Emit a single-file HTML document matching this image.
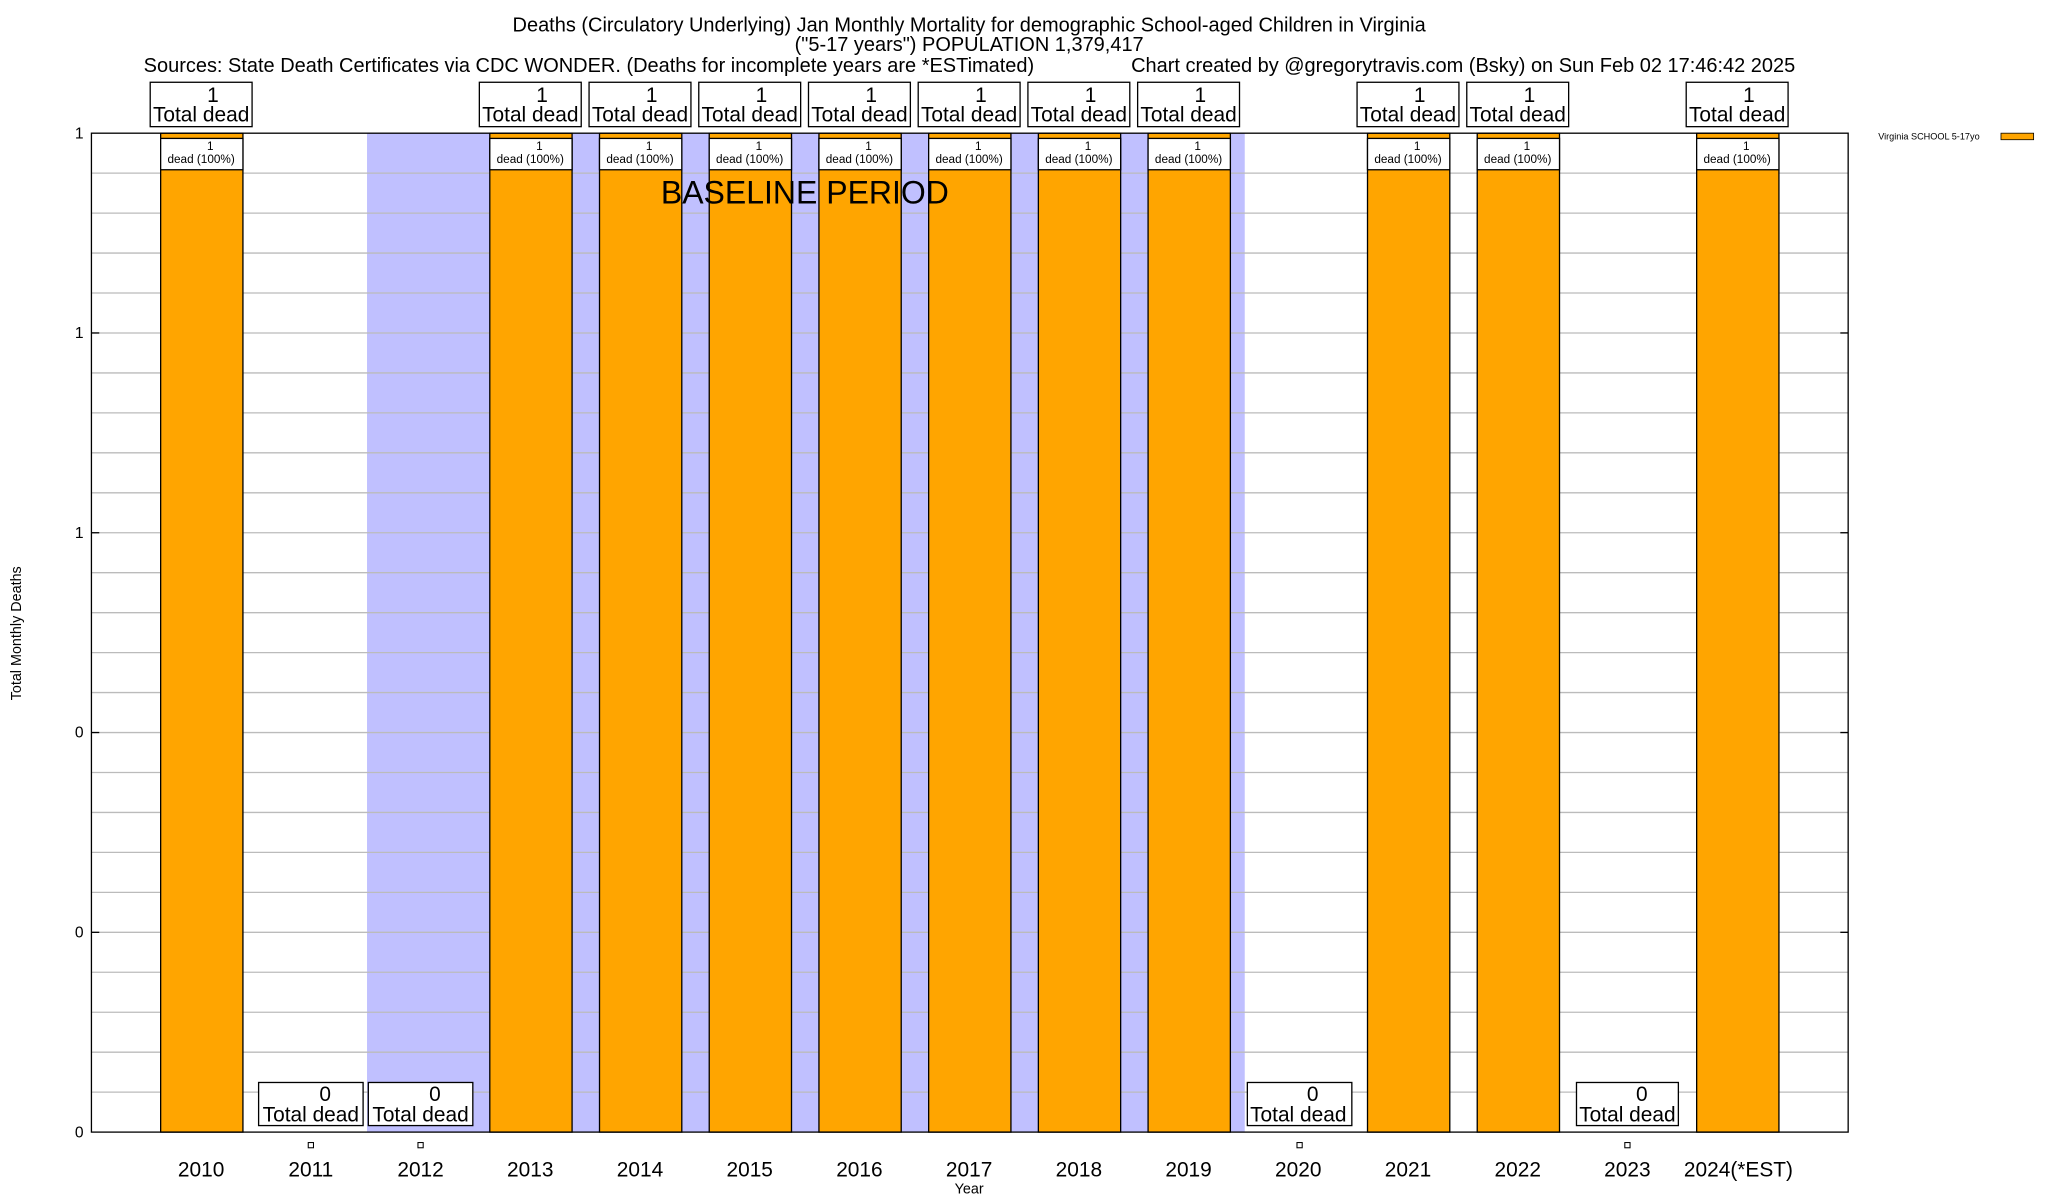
<!DOCTYPE html>
<html><head><meta charset="utf-8"><style>html,body{margin:0;padding:0;background:#fff}svg{display:block}text{font-family:"Liberation Sans",sans-serif;fill:#000}</style></head>
<body>
<svg width="2048" height="1200" viewBox="0 0 1568 919" preserveAspectRatio="none" xmlns="http://www.w3.org/2000/svg">
<rect x="0" y="0" width="1568" height="919" fill="#fff"/>
<text x="742" y="24" font-size="15.3" text-anchor="middle">Deaths (Circulatory Underlying) Jan Monthly Mortality for demographic School-aged Children in Virginia</text>
<text x="742" y="39" font-size="15.3" text-anchor="middle">("5-17 years") POPULATION 1,379,417</text>
<text x="110" y="55" font-size="15.3">Sources: State Death Certificates via CDC WONDER. (Deaths for incomplete years are *ESTimated)</text>
<text x="866" y="55" font-size="15.3">Chart created by @gregorytravis.com (Bsky) on Sun Feb 02 17:46:42 2025</text>
<rect x="281" y="102" width="672" height="765" fill="#c0c0ff"/>
<g stroke="#bbb" stroke-width="1">
<line x1="70" x2="1415" y1="132.6" y2="132.6"/><line x1="70" x2="1415" y1="163.2" y2="163.2"/><line x1="70" x2="1415" y1="193.8" y2="193.8"/><line x1="70" x2="1415" y1="224.4" y2="224.4"/><line x1="70" x2="1415" y1="255" y2="255"/><line x1="70" x2="1415" y1="285.6" y2="285.6"/><line x1="70" x2="1415" y1="316.2" y2="316.2"/><line x1="70" x2="1415" y1="346.8" y2="346.8"/><line x1="70" x2="1415" y1="377.4" y2="377.4"/><line x1="70" x2="1415" y1="408" y2="408"/><line x1="70" x2="1415" y1="438.6" y2="438.6"/><line x1="70" x2="1415" y1="469.2" y2="469.2"/><line x1="70" x2="1415" y1="499.8" y2="499.8"/><line x1="70" x2="1415" y1="530.4" y2="530.4"/><line x1="70" x2="1415" y1="561" y2="561"/><line x1="70" x2="1415" y1="591.6" y2="591.6"/><line x1="70" x2="1415" y1="622.2" y2="622.2"/><line x1="70" x2="1415" y1="652.8" y2="652.8"/><line x1="70" x2="1415" y1="683.4" y2="683.4"/><line x1="70" x2="1415" y1="714" y2="714"/><line x1="70" x2="1415" y1="744.6" y2="744.6"/><line x1="70" x2="1415" y1="775.2" y2="775.2"/><line x1="70" x2="1415" y1="805.8" y2="805.8"/><line x1="70" x2="1415" y1="836.4" y2="836.4"/>
</g>
<g fill="#ffa500" stroke="#000" stroke-width="1">
<rect x="123" y="102" width="63" height="765"/>
<rect x="375" y="102" width="63" height="765"/>
<rect x="459" y="102" width="63" height="765"/>
<rect x="543" y="102" width="63" height="765"/>
<rect x="627" y="102" width="63" height="765"/>
<rect x="711" y="102" width="63" height="765"/>
<rect x="795" y="102" width="63" height="765"/>
<rect x="879" y="102" width="63" height="765"/>
<rect x="1047" y="102" width="63" height="765"/>
<rect x="1131" y="102" width="63" height="765"/>
<rect x="1299" y="102" width="63" height="765"/>
</g>
<text x="506" y="156" font-size="24.5">BASELINE PERIOD</text>
<g font-size="9" text-anchor="middle">
<g fill="#fff" stroke="#000" stroke-width="1">
<rect x="123" y="106" width="63" height="24"/><rect x="375" y="106" width="63" height="24"/><rect x="459" y="106" width="63" height="24"/><rect x="543" y="106" width="63" height="24"/><rect x="627" y="106" width="63" height="24"/><rect x="711" y="106" width="63" height="24"/><rect x="795" y="106" width="63" height="24"/><rect x="879" y="106" width="63" height="24"/><rect x="1047" y="106" width="63" height="24"/><rect x="1131" y="106" width="63" height="24"/><rect x="1299" y="106" width="63" height="24"/>
</g>
<text x="161" y="115">1</text><text x="154" y="125">dead (100%)</text>
<text x="413" y="115">1</text><text x="406" y="125">dead (100%)</text>
<text x="497" y="115">1</text><text x="490" y="125">dead (100%)</text>
<text x="581" y="115">1</text><text x="574" y="125">dead (100%)</text>
<text x="665" y="115">1</text><text x="658" y="125">dead (100%)</text>
<text x="749" y="115">1</text><text x="742" y="125">dead (100%)</text>
<text x="833" y="115">1</text><text x="826" y="125">dead (100%)</text>
<text x="917" y="115">1</text><text x="910" y="125">dead (100%)</text>
<text x="1085" y="115">1</text><text x="1078" y="125">dead (100%)</text>
<text x="1169" y="115">1</text><text x="1162" y="125">dead (100%)</text>
<text x="1337" y="115">1</text><text x="1330" y="125">dead (100%)</text>
</g>
<g fill="#fff" stroke="#000" stroke-width="1">
<rect x="115" y="63" width="78" height="34"/><rect x="367" y="63" width="78" height="34"/><rect x="451" y="63" width="78" height="34"/><rect x="535" y="63" width="78" height="34"/><rect x="619" y="63" width="78" height="34"/><rect x="703" y="63" width="78" height="34"/><rect x="787" y="63" width="78" height="34"/><rect x="871" y="63" width="78" height="34"/><rect x="1039" y="63" width="78" height="34"/><rect x="1123" y="63" width="78" height="34"/><rect x="1291" y="63" width="78" height="34"/>
<rect x="198" y="829" width="80" height="33"/><rect x="282" y="829" width="80" height="33"/><rect x="955" y="829" width="80" height="33"/><rect x="1207" y="829" width="78" height="33"/>
</g>
<g font-size="16" text-anchor="middle">
<text x="163" y="78">1</text><text x="154" y="93">Total dead</text>
<text x="415" y="78">1</text><text x="406" y="93">Total dead</text>
<text x="499" y="78">1</text><text x="490" y="93">Total dead</text>
<text x="583" y="78">1</text><text x="574" y="93">Total dead</text>
<text x="667" y="78">1</text><text x="658" y="93">Total dead</text>
<text x="751" y="78">1</text><text x="742" y="93">Total dead</text>
<text x="835" y="78">1</text><text x="826" y="93">Total dead</text>
<text x="919" y="78">1</text><text x="910" y="93">Total dead</text>
<text x="1087" y="78">1</text><text x="1078" y="93">Total dead</text>
<text x="1171" y="78">1</text><text x="1162" y="93">Total dead</text>
<text x="1339" y="78">1</text><text x="1330" y="93">Total dead</text>
<text x="249" y="843">0</text><text x="238" y="859">Total dead</text>
<text x="333" y="843">0</text><text x="322" y="859">Total dead</text>
<text x="1005" y="843">0</text><text x="994" y="859">Total dead</text>
<text x="1257" y="843">0</text><text x="1246" y="859">Total dead</text>
</g>
<g fill="#fff" stroke="#000" stroke-width="0.8">
<rect x="236" y="875" width="4" height="4"/><rect x="320" y="875" width="4" height="4"/><rect x="993" y="875" width="4" height="4"/><rect x="1244" y="875" width="4" height="4"/>
</g>
<rect x="70" y="102" width="1345" height="765" fill="none" stroke="#000" stroke-width="1"/>
<g stroke="#000" stroke-width="1">
<line x1="70" x2="76" y1="255" y2="255"/><line x1="70" x2="76" y1="408" y2="408"/><line x1="70" x2="76" y1="561" y2="561"/><line x1="70" x2="76" y1="714" y2="714"/>
<line x1="1409" x2="1415" y1="255" y2="255"/><line x1="1409" x2="1415" y1="408" y2="408"/><line x1="1409" x2="1415" y1="561" y2="561"/><line x1="1409" x2="1415" y1="714" y2="714"/>
</g>
<g font-size="12" text-anchor="end">
<text x="64" y="106">1</text><text x="64" y="259">1</text><text x="64" y="412">1</text><text x="64" y="565">0</text><text x="64" y="718">0</text><text x="64" y="871">0</text>
</g>
<g font-size="16" text-anchor="middle">
<text x="154" y="901">2010</text><text x="238" y="901">2011</text><text x="322" y="901">2012</text><text x="406" y="901">2013</text><text x="490" y="901">2014</text><text x="574" y="901">2015</text><text x="658" y="901">2016</text><text x="742" y="901">2017</text><text x="826" y="901">2018</text><text x="910" y="901">2019</text><text x="994" y="901">2020</text><text x="1078" y="901">2021</text><text x="1162" y="901">2022</text><text x="1246" y="901">2023</text><text x="1331" y="901">2024(*EST)</text>
</g>
<text x="742" y="914" font-size="11" text-anchor="middle">Year</text>
<text transform="translate(16,485) rotate(-90)" font-size="11" text-anchor="middle">Total Monthly Deaths</text>
<text x="1438" y="107" font-size="7">Virginia SCHOOL 5-17yo</text>
<rect x="1532" y="102" width="25" height="5" fill="#ffa500" stroke="#000" stroke-width="0.6"/>
</svg>
</body></html>
